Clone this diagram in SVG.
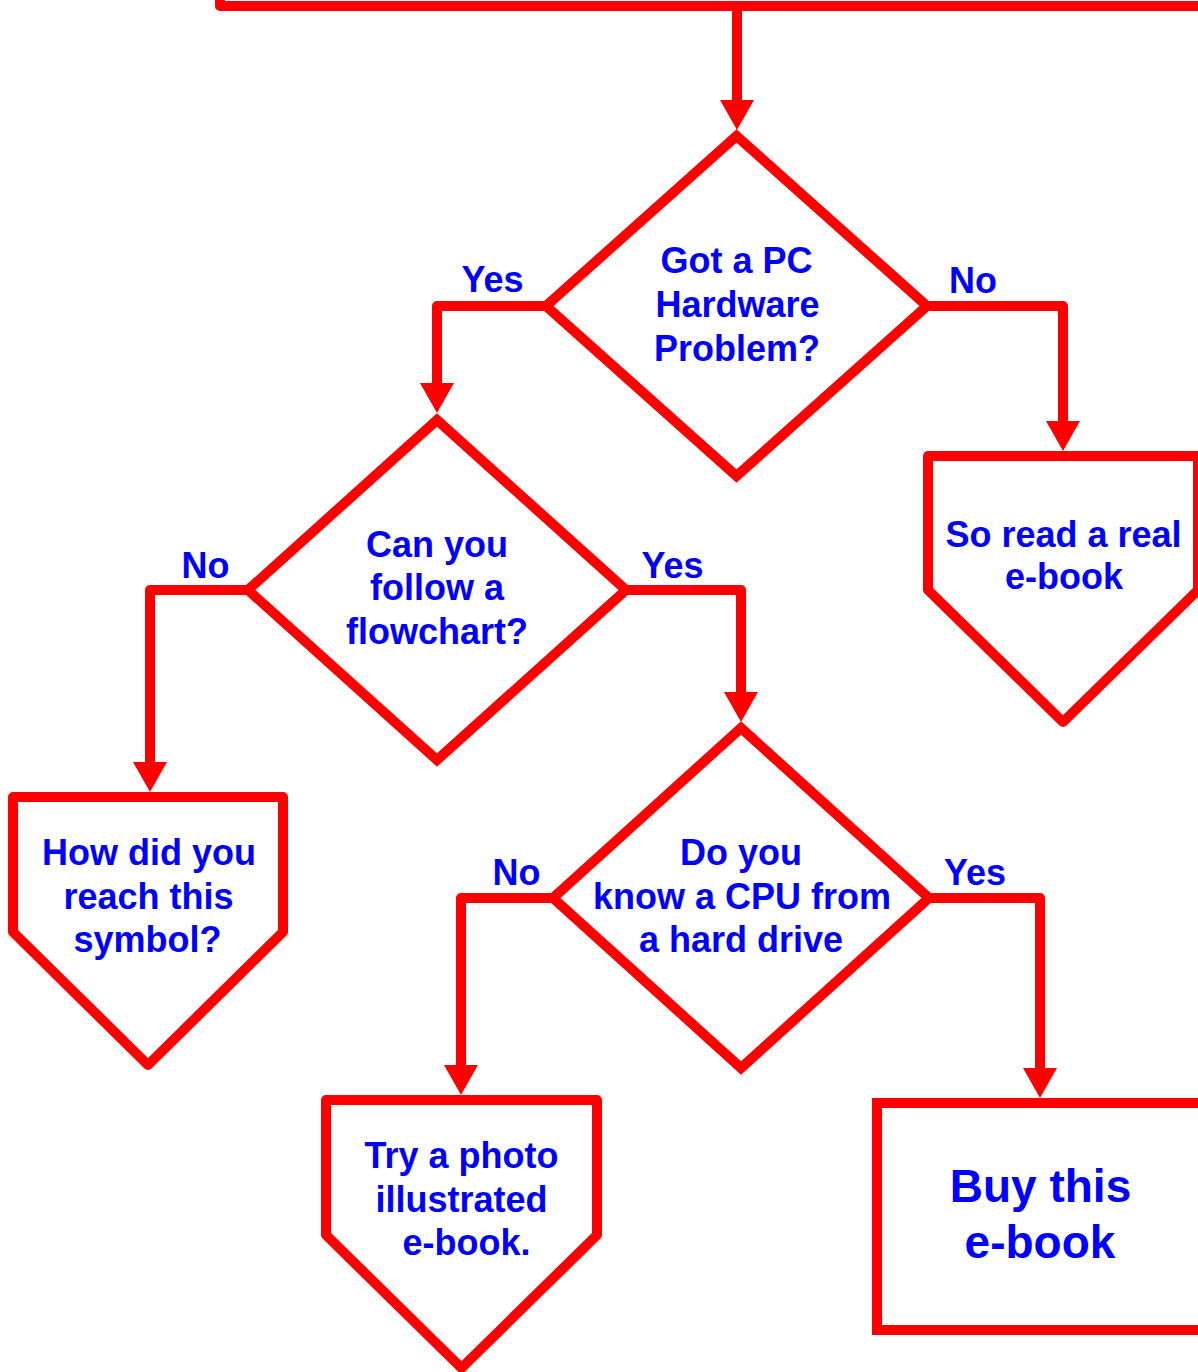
<svg xmlns="http://www.w3.org/2000/svg" width="1198" height="1372" viewBox="0 0 1198 1372">
<style>
.shape{fill:#FFFFFF;stroke:#FF0000;stroke-width:10;stroke-linejoin:miter}
.pent{fill:#FFFFFF;stroke:#FF0000;stroke-width:10;stroke-linejoin:round}
.conn{fill:none;stroke:#FF0000;stroke-width:10;stroke-linejoin:round}
.t{font-family:"Liberation Sans",Arial,sans-serif;font-weight:bold;font-size:36px;fill:#0000FF;text-anchor:middle}
.big{font-size:46px}
</style>
<defs>
<marker id="arrow" viewBox="0 0 30 34" refX="0" refY="17" markerWidth="30" markerHeight="34" markerUnits="userSpaceOnUse" orient="auto">
<path d="M0,0 L30,17 L0,34 Z" fill="#FF0000"/>
</marker>
</defs>
<g id="start"><rect class="pent" x="220" y="-300" width="1010" height="306"/></g>
<g id="connectors">
<path class="conn" d="M737,6 V100" marker-end="url(#arrow)"/>
<path class="conn" d="M546,306 H437 V383" marker-end="url(#arrow)"/>
<path class="conn" d="M927,306 H1063 V421" marker-end="url(#arrow)"/>
<path class="conn" d="M248,590 H150 V762" marker-end="url(#arrow)"/>
<path class="conn" d="M626,590 H741 V692" marker-end="url(#arrow)"/>
<path class="conn" d="M553,898 H461 V1065" marker-end="url(#arrow)"/>
<path class="conn" d="M929,898 H1040 V1068" marker-end="url(#arrow)"/>
</g>
<g id="labels">
<text class="t" x="492.5" y="292">Yes</text>
<text class="t" x="973" y="293">No</text>
<text class="t" x="205.5" y="578">No</text>
<text class="t" x="672.5" y="578">Yes</text>
<text class="t" x="516.5" y="885">No</text>
<text class="t" x="975" y="885">Yes</text>
</g>
<g id="d1">
<polygon class="shape" points="736.5,136 927,306 736.5,476 546,306"/>
<text class="t" x="736.5" y="273">Got a PC</text>
<text class="t" x="737.5" y="317">Hardware</text>
<text class="t" x="737" y="361">Problem?</text>
</g>
<g id="d2">
<polygon class="shape" points="437,420 626,590 437,760 248,590"/>
<text class="t" x="437" y="557">Can you</text>
<text class="t" x="437" y="600">follow a</text>
<text class="t" x="437" y="644">flowchart?</text>
</g>
<g id="d3">
<polygon class="shape" points="741,728 929,898 741,1068 553,898"/>
<text class="t" x="741" y="865">Do you</text>
<text class="t" x="742" y="909">know a CPU from</text>
<text class="t" x="741" y="952">a hard drive</text>
</g>
<g id="p1">
<polygon class="pent" points="928,456 1198,456 1198,590 1063,722 928,590"/>
<text class="t" x="1063.5" y="547">So read a real</text>
<text class="t" x="1064" y="589">e-book</text>
</g>
<g id="p2">
<polygon class="pent" points="13,797 283,797 283,932 148,1065 13,932"/>
<text class="t" x="149" y="865">How did you</text>
<text class="t" x="148.5" y="909">reach this</text>
<text class="t" x="147.5" y="952">symbol?</text>
</g>
<g id="p3">
<polygon class="pent" points="326,1100 597,1100 597,1235 461.5,1368 326,1235"/>
<text class="t" x="461.5" y="1168">Try a photo</text>
<text class="t" x="461.5" y="1212">illustrated</text>
<text class="t" x="466.5" y="1255">e-book.</text>
</g>
<g id="r1">
<rect class="shape" x="877" y="1103" width="340" height="227"/>
<text class="t big" x="1040.5" y="1202">Buy this</text>
<text class="t big" x="1040" y="1258">e-book</text>
</g>
</svg>
